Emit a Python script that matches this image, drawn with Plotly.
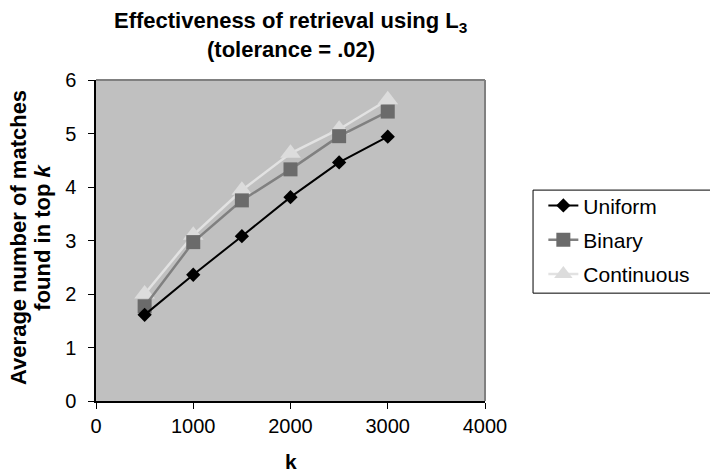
import plotly.graph_objects as go

k_values = [500, 1000, 1500, 2000, 2500, 3000]
uniform = [1.61, 2.36, 3.08, 3.81, 4.46, 4.94]
binary = [1.77, 2.97, 3.75, 4.33, 4.95, 5.41]
continuous = [2.0, 3.1, 3.94, 4.63, 5.08, 5.63]
x_ticks = [0, 1000, 2000, 3000, 4000]
y_ticks = [0, 1, 2, 3, 4, 5, 6]

FONT = "Liberation Sans, Arial, sans-serif"

fig = go.Figure()
fig.add_trace(go.Scatter(
    x=k_values, y=continuous, name="Continuous", mode="lines+markers",
    line=dict(color="#E2E2E2", width=2.5),
    marker=dict(symbol="triangle-up", size=18, color="#DCDCDC"),
    legendgroup="c", legendrank=3))
fig.add_trace(go.Scatter(
    x=k_values, y=binary, name="Binary", mode="lines+markers",
    line=dict(color="#808080", width=2.5),
    marker=dict(symbol="square", size=14, color="#6B6B6B"),
    legendgroup="b", legendrank=2))
fig.add_trace(go.Scatter(
    x=k_values, y=uniform, name="Uniform", mode="lines+markers",
    line=dict(color="#000000", width=2),
    marker=dict(symbol="diamond", size=11, color="#000000"),
    legendgroup="a", legendrank=1))

annotations = [
    dict(text="<b>Effectiveness of retrieval using L<sub>3</sub></b>", x=0.5, y=1.1807,
         xref="paper", yref="paper", showarrow=False, font=dict(size=22, family=FONT, color="black"),
         xanchor="center", yanchor="middle"),
    dict(text="<b>(tolerance = .02)</b>", x=0.5, y=1.0935,
         xref="paper", yref="paper", showarrow=False, font=dict(size=22, family=FONT, color="black"),
         xanchor="center", yanchor="middle"),
    dict(text="<b>Average number of matches</b>", x=-0.198, y=0.511, textangle=-90,
         xref="paper", yref="paper", showarrow=False, font=dict(size=22, family=FONT, color="black"),
         xanchor="center", yanchor="middle"),
    dict(text="<b>found in top <i>k</i></b>", x=-0.137, y=0.511, textangle=-90,
         xref="paper", yref="paper", showarrow=False, font=dict(size=22, family=FONT, color="black"),
         xanchor="center", yanchor="middle"),
    dict(text="<b>k</b>", x=0.5, y=-0.187,
         xref="paper", yref="paper", showarrow=False, font=dict(size=21, family=FONT, color="black"),
         xanchor="center", yanchor="middle"),
]

fig.update_layout(
    width=710, height=472,
    margin=dict(l=96, r=225, t=80, b=71),
    paper_bgcolor="white", plot_bgcolor="#C0C0C0",
    font=dict(family=FONT, size=20, color="black"),
    showlegend=True,
    legend=dict(x=1.15, y=0.672, xanchor="left", yanchor="top",
                borderwidth=0, bgcolor="rgba(0,0,0,0)",
                font=dict(size=21, family=FONT), tracegroupgap=4,
                traceorder="grouped"),
    annotations=annotations,
    shapes=[
        dict(type="line", xref="paper", yref="paper", x0=0, x1=1, y0=1, y1=1,
             line=dict(color="#808080", width=2)),
        dict(type="line", xref="paper", yref="paper", x0=1, x1=1, y0=0, y1=1,
             line=dict(color="#808080", width=2)),
        dict(type="rect", xref="paper", yref="paper", x0=1.1235, x1=1.6, y0=0.336, y1=0.657,
             line=dict(color="black", width=1), fillcolor="rgba(0,0,0,0)"),
    ],
)
fig.update_xaxes(range=[0, 4000], tickvals=x_ticks, ticks="outside", ticklen=6,
                 tickcolor="black", showline=True, linecolor="black", linewidth=1.5,
                 showgrid=False, zeroline=False, ticklabelstandoff=0,
                 tickfont=dict(size=20, family=FONT))
fig.update_yaxes(range=[0, 6], tickvals=y_ticks, ticks="outside", ticklen=6,
                 tickcolor="black", showline=True, linecolor="black", linewidth=1.5,
                 showgrid=False, zeroline=False, ticklabelstandoff=8,
                 tickfont=dict(size=20, family=FONT))

fig.write_html("out.html")
